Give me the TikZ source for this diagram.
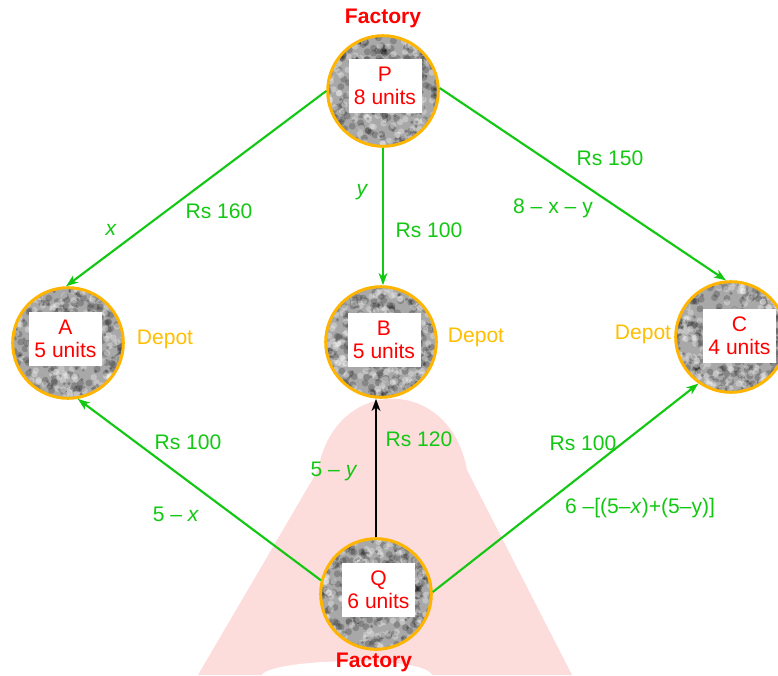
\documentclass[tikz,border=0pt]{standalone}
\usepackage{fontspec}
\setmainfont{Liberation Sans}
\usetikzlibrary{arrows.meta}
\definecolor{flowgreen}{RGB}{18,200,18}
\definecolor{ringorange}{RGB}{255,180,0}
\definecolor{depotorange}{RGB}{255,190,0}
\definecolor{labelred}{RGB}{255,0,0}
\definecolor{markpink}{RGB}{253,220,220}
\definecolor{texgray}{RGB}{168,168,168}
\begin{document}
\begin{tikzpicture}[x=0.75pt, y=-0.75pt,
  font=\fontsize{15.8}{17}\selectfont,
  hub/.style={circle, minimum size=83pt, inner sep=0pt, draw=ringorange,
    line width=2.2pt, fill=texgray,
    path picture={\pgfmathsetseed{#1}
      \begin{scope}[shift={(path picture bounding box.center)}]
        \foreach \k in {1,...,230}{\fill[black, opacity=.2] (rand*44pt,rand*44pt) circle (2.6pt);}
        \foreach \k in {1,...,210}{\fill[white, opacity=.3] (rand*44pt,rand*44pt) circle (2.4pt);}
        \foreach \k in {1,...,80}{\fill[black, opacity=.25] (rand*44pt,rand*44pt) circle (1.3pt);}
      \end{scope}}},
  tag/.style={fill=white, text=labelred, align=center, minimum width=54.75pt,
    minimum height=40.5pt, inner sep=0pt, font=\fontsize{15.8}{17.3}\selectfont},
  flow/.style={draw=flowgreen, line width=1.6pt, -{Stealth[length=9pt, width=6.5pt, inset=2.5pt]}},
  blackflow/.style={draw=black, line width=1.7pt, -{Stealth[length=9pt, width=6.5pt, inset=2.5pt]}},
  cost/.style={text=flowgreen, inner sep=0pt},
  depot/.style={text=depotorange, inner sep=0pt},
  factory/.style={text=labelred, inner sep=0pt, font=\fontsize{15.8}{17}\selectfont\bfseries}]

\useasboundingbox (0,0) rectangle (778,675);

% faint background mark
\fill[markpink] (198,675) -- (318,470) .. controls (335,375) and (450,375) .. (467,470) -- (572,675) -- cycle;
\fill[white] (262,675) .. controls (270,659) and (422,654) .. (432,675) -- cycle;

% factories and depots
\node[hub=3] (P) at (383,91) {};
\node[tag] (Pt) at (385,86) {P\\8 units};
\node[hub=5] (A) at (68,343) {};
\node[tag] (At) at (65.5,338.5) {A\\5 units};
\node[hub=8] (B) at (381,342) {};
\node[tag] (Bt) at (384,340) {B\\5 units};
\node[hub=13] (C) at (731,337) {};
\node[tag] (Ct) at (739.5,336) {C\\4 units};
\node[hub=21] (Q) at (376,594) {};
\node[tag] (Qt) at (378.5,590) {Q\\6 units};

\node[factory] (fP) at (383,18) {Factory};
\node[factory] (fQ) at (374,662) {Factory};
\node[depot] (dA) at (165,339) {Depot};
\node[depot] (dB) at (476,337) {Depot};
\node[depot] (dC) at (643,334) {Depot};

% shipments
\draw[flow] (P.180) -- (A.92);
\draw[flow] (P.south) -- (P.south |- B.north);
\draw[flow] (P.3) -- (C.95);
\draw[flow] (Q.166) -- (A.280);
\draw[blackflow] (Q.north) -- (Q.north |- B.south);
\draw[flow] (Q.2) -- (C.235);

% costs and quantities
\node[cost] (c1) at (219,211) {Rs 160};
\node[cost] (q1) at (111,230) {\itshape x};
\node[cost] (q2) at (362,192) {\itshape y};
\node[cost] (c2) at (429,230) {Rs 100};
\node[cost] (c3) at (610,158) {Rs 150};
\node[cost] (q3) at (553,208) {8 – x – y};
\node[cost] (c4) at (188,442) {Rs 100};
\node[cost] (q4) at (176,514) {5 – \textit{x}};
\node[cost] (c5) at (419,439) {Rs 120};
\node[cost] (q5) at (334,471) {5 – \textit{y}};
\node[cost] (c6) at (583,443) {Rs 100};
\node[cost] (q6) at (640,508) {6 –[(5–\textit{x})+(5–y)]};
\end{tikzpicture}
\end{document}
